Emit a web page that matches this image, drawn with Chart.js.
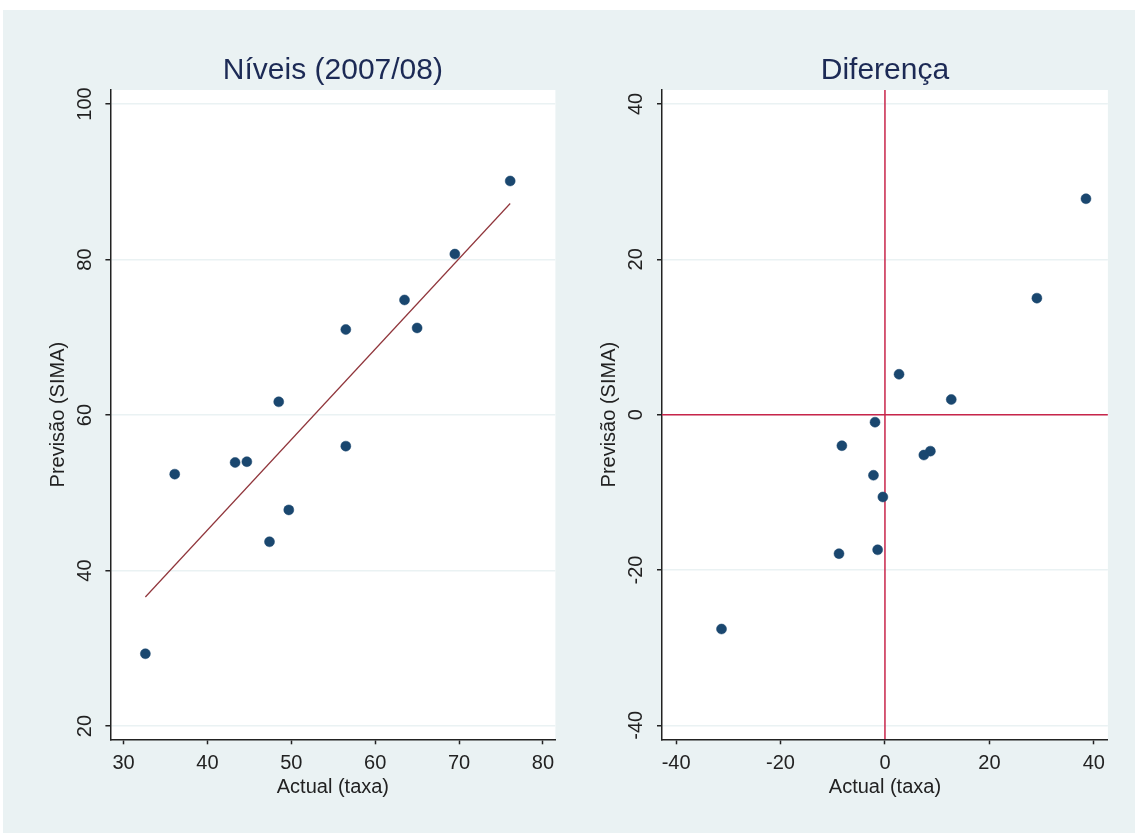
<!DOCTYPE html>
<html lang="pt">
<head>
<meta charset="utf-8">
<title>Níveis (2007/08) e Diferença</title>
<script src="https://cdn.jsdelivr.net/npm/chart.js@4.4.1/dist/chart.umd.min.js"></script>
<style>
  html, body { margin: 0; padding: 0; background: #fff; overflow: hidden; }
  body { width: 1135px; height: 833px; position: relative; }
  #fundo { position: absolute; left: 3px; top: 10px; right: 0; bottom: 0; background: #eaf2f3; }
  canvas { position: absolute; top: 0; }
  #grafico-niveis { left: 10px; }
  #grafico-diferenca { left: 595px; }
</style>
</head>
<body>
<div id="fundo"></div>
<canvas id="grafico-niveis" width="646" height="833"></canvas>
<canvas id="grafico-diferenca" width="580" height="833"></canvas>
<script>
// Painel 1: níveis (2007/08)
const niveisActual   = [76.1, 69.5, 63.5, 65.0, 56.5, 48.5, 56.5, 43.3, 44.7, 36.1, 49.7, 47.4, 32.6];
const niveisPrevisao = [90.1, 80.7, 74.8, 71.2, 71.0, 61.7, 56.0, 53.9, 54.0, 52.4, 47.8, 43.7, 29.3];
// recta de ajuste (extremos)
const ajusteX = [32.6, 76.1];
const ajusteY = [36.6, 87.2];
const niveisTicksX = [30, 40, 50, 60, 70, 80];
const niveisTicksY = [20, 40, 60, 80, 100];
const niveisEscalaX = [28.43, 81.49];
const niveisEscalaY = [18.3, 101.8];

// Painel 2: diferença
const difActual   = [38.5, 29.1, 2.7, 12.7, -1.9, -8.25, 8.7, 7.45, -2.2, -0.4, -1.4, -8.8, -31.3];
const difPrevisao = [27.8, 15.0, 5.2, 1.95, -0.97, -4.0, -4.7, -5.2, -7.8, -10.6, -17.4, -17.9, -27.6];
const difTicksX = [-40, -20, 0, 20, 40];
const difTicksY = [-40, -20, 0, 20, 40];
const difEscalaX = [-42.7, 42.7];
const difEscalaY = [-41.8, 41.8];
const linhaZero = 0;

const fonte = '"Liberation Sans", Arial, sans-serif';
const corPontos = '#1a476f';
const corAjuste = '#90353b';
const corLinhaZero = '#c8254a';
const corTexto = '#222';

// pinta de branco só a área do gráfico
const fundoBranco = {
  id: 'fundoBranco',
  beforeDraw(chart) {
    const { ctx, chartArea: a } = chart;
    ctx.save();
    ctx.fillStyle = '#fff';
    ctx.fillRect(a.left, a.top, a.right - a.left, a.bottom - a.top);
    ctx.restore();
  }
};

function pares(xs, ys) {
  return xs.map((x, i) => ({ x, y: ys[i] }));
}

function eixoX(escala, ticks) {
  return {
    type: 'linear',
    position: 'bottom',
    min: escala[0],
    max: escala[1],
    afterBuildTicks: s => { s.ticks = ticks.map(v => ({ value: v })); },
    afterFit: s => { s.height = 60; },
    border: { color: corTexto, width: 1.5 },
    grid: { drawOnChartArea: false, tickLength: 5, tickColor: corTexto, tickWidth: 1.5 },
    ticks: { color: corTexto, font: { family: fonte, size: 20 }, padding: 7, maxRotation: 0, autoSkip: false },
    title: { display: true, text: 'Actual (taxa)', color: corTexto, font: { family: fonte, size: 20 }, padding: { top: 0, bottom: 0 } }
  };
}

function eixoY(escala, ticks, largura, padTitulo, padTicks) {
  return {
    type: 'linear',
    position: 'left',
    min: escala[0],
    max: escala[1],
    afterBuildTicks: s => { s.ticks = ticks.map(v => ({ value: v })); },
    afterFit: s => { s.width = largura; },
    border: { color: corTexto, width: 1.5 },
    grid: { color: '#eaf2f3', lineWidth: 1.5, tickLength: 5, tickColor: corTexto, tickWidth: 1.5 },
    ticks: { color: corTexto, font: { family: fonte, size: 20 }, padding: padTicks, minRotation: 90, maxRotation: 90, crossAlign: 'center', autoSkip: false },
    title: { display: true, text: 'Previsão (SIMA)', color: corTexto, font: { family: fonte, size: 20 }, padding: { top: padTitulo, bottom: 0 } }
  };
}

function opcoes(titulo, escalas, padding) {
  return {
    responsive: false,
    animation: false,
    events: [],
    layout: { padding },
    plugins: {
      legend: { display: false },
      tooltip: { enabled: false },
      title: {
        display: true,
        fullSize: false, // centrado sobre a área do gráfico
        text: titulo,
        color: '#1c2a55',
        font: { family: fonte, size: 30, weight: 'normal' },
        padding: { top: 53, bottom: 1 }
      }
    },
    scales: escalas
  };
}

const pontos = (dados) => ({
  data: dados,
  backgroundColor: corPontos,
  borderColor: corPontos,
  borderWidth: 0.5,
  pointRadius: 5,
  order: 1
});

// 🎯 Níveis
new Chart(document.getElementById('grafico-niveis'), {
  type: 'scatter',
  data: {
    datasets: [
      pontos(pares(niveisActual, niveisPrevisao)),
      {
        data: pares(ajusteX, ajusteY),
        showLine: true,
        borderColor: corAjuste,
        borderWidth: 1.2,
        pointRadius: 0,
        order: 0
      }
    ]
  },
  options: opcoes('Níveis (2007/08)', {
    x: eixoX(niveisEscalaX, niveisTicksX),
    y: eixoY(niveisEscalaY, niveisTicksY, 70.4, 6.5, 3.7)
  }, { left: 30, right: 100.6, top: 0, bottom: 33.7 }),
  plugins: [fundoBranco]
});

// 🎯 Diferença, com as linhas no zero
new Chart(document.getElementById('grafico-diferenca'), {
  type: 'scatter',
  data: {
    datasets: [
      pontos(pares(difActual, difPrevisao)),
      {
        data: [{ x: linhaZero, y: difEscalaY[0] }, { x: linhaZero, y: difEscalaY[1] }],
        showLine: true, borderColor: corLinhaZero, borderWidth: 1.5, pointRadius: 0, order: 2
      },
      {
        data: [{ x: difEscalaX[0], y: linhaZero }, { x: difEscalaX[1], y: linhaZero }],
        showLine: true, borderColor: corLinhaZero, borderWidth: 1.5, pointRadius: 0, order: 2
      }
    ]
  },
  options: opcoes('Diferença', {
    x: eixoX(difEscalaX, difTicksX),
    y: eixoY(difEscalaY, difTicksY, 67, 2.5, 6.55)
  }, { left: 0, right: 67.1, top: 0, bottom: 33.7 }),
  plugins: [fundoBranco]
});
</script>
</body>
</html>
